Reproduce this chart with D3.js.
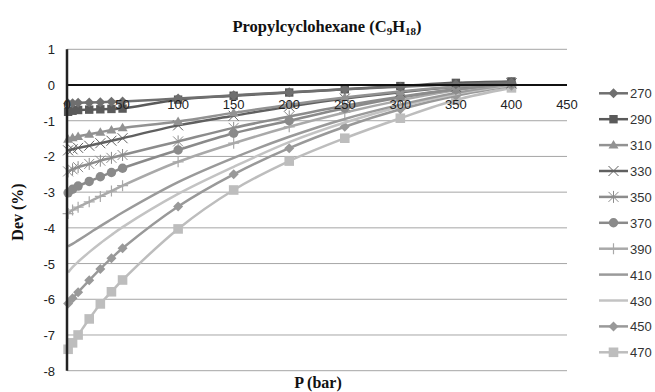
<!DOCTYPE html>
<html><head><meta charset="utf-8">
<script src="https://cdn.jsdelivr.net/npm/d3@7"></script>
<style>body{margin:0;background:#fff}svg{display:block}</style>
</head><body>
<svg id="c" width="655" height="392"></svg>
<script>
const pressures = [1,5,10,20,30,40,50,100,150,200,250,300,350,400];
const seriesNames = ["270","290","310","330","350","370","390","410","430","450","470"];
const s270 = [-0.52,-0.51,-0.5,-0.49,-0.48,-0.47,-0.46,-0.38,-0.29,-0.2,-0.12,-0.05,0.02,0.07];
const s290 = [-0.75,-0.72,-0.7,-0.69,-0.68,-0.67,-0.66,-0.41,-0.3,-0.21,-0.12,-0.03,0.06,0.1];
const s310 = [-1.52,-1.48,-1.44,-1.38,-1.32,-1.26,-1.2,-1.02,-0.78,-0.55,-0.35,-0.18,-0.05,0.05];
const s330 = [-1.83,-1.8,-1.76,-1.7,-1.63,-1.56,-1.49,-1.13,-0.86,-0.6,-0.38,-0.2,-0.05,0.05];
const s350 = [-2.42,-2.36,-2.3,-2.21,-2.12,-2.04,-1.96,-1.58,-1.2,-0.88,-0.58,-0.33,-0.12,0.04];
const s370 = [-3.02,-2.92,-2.83,-2.7,-2.57,-2.45,-2.33,-1.82,-1.35,-1.0,-0.65,-0.35,-0.12,0.04];
const s390 = [-3.6,-3.5,-3.42,-3.27,-3.12,-2.97,-2.82,-2.15,-1.63,-1.17,-0.77,-0.43,-0.15,0.03];
const s410 = [-4.52,-4.45,-4.35,-4.15,-3.95,-3.76,-3.57,-2.72,-2.04,-1.45,-0.95,-0.55,-0.22,0.02];
const s430 = [-5.25,-5.1,-4.95,-4.68,-4.43,-4.2,-3.98,-3.05,-2.29,-1.6,-1.05,-0.6,-0.25,0.0];
const s450 = [-6.12,-5.97,-5.8,-5.47,-5.15,-4.85,-4.57,-3.4,-2.5,-1.77,-1.17,-0.68,-0.3,-0.02];
const s470 = [-7.4,-7.22,-7.0,-6.55,-6.13,-5.79,-5.46,-4.03,-2.94,-2.13,-1.49,-0.93,-0.42,-0.08];
const seriesValues = [s270,s290,s310,s330,s350,s370,s390,s410,s430,s450,s470];
const xTicks = [0,50,100,150,200,250,300,350,400,450];
const yTicks = [1,0,-1,-2,-3,-4,-5,-6,-7,-8];
const title = "Propylcyclohexane";
const xTitle = "P (bar)";
const yTitle = "Dev (%)";

const styles = {
  "270":{c:"#6f6f6f",m:"diamond"},
  "290":{c:"#5a5a5a",m:"square"},
  "310":{c:"#929292",m:"triangle"},
  "330":{c:"#606060",m:"x"},
  "350":{c:"#8c8c8c",m:"star"},
  "370":{c:"#8a8a8a",m:"circle"},
  "390":{c:"#a9a9a9",m:"plus"},
  "410":{c:"#9a9a9a",m:"none"},
  "430":{c:"#c3c3c3",m:"none"},
  "450":{c:"#999999",m:"diamond"},
  "470":{c:"#bdbdbd",m:"square"}
};

const svg = d3.select("#c");
const x = d3.scaleLinear().domain([0,450]).range([67,567]);
const y = d3.scaleLinear().domain([-8,1]).range([370.7,49.3]);

svg.append("g").selectAll("line").data(yTicks.filter(d=>d!==0)).join("line")
  .attr("x1",x(0)).attr("x2",x(450)).attr("y1",d=>y(d)).attr("y2",d=>y(d))
  .attr("stroke","#a6a6a6").attr("stroke-width",1);

svg.append("g").selectAll("text").data(yTicks).join("text")
  .attr("x",55).attr("y",d=>y(d)+5).attr("text-anchor","end")
  .attr("font-family","Liberation Sans, Arial, sans-serif").attr("font-size",13).attr("fill","#222")
  .text(d=>d);

const line = d3.line().x(d=>x(d[0])).y(d=>y(d[1])).curve(d3.curveCatmullRom.alpha(0.5));
function drawMarker(g, m, c, px, py, big){
  if(m==="none") return;
  let d, stroke=false, sw=1;
  if(m==="x"){ const r=5; d=`M${px-r},${py-r}L${px+r},${py+r}M${px-r},${py+r}L${px+r},${py-r}`; stroke=true; }
  else if(m==="star"){ const r=5; d=`M${px-r},${py-r}L${px+r},${py+r}M${px-r},${py+r}L${px+r},${py-r}M${px},${py-r-1}L${px},${py+r+1}`; stroke=true; }
  else if(m==="plus"){ const r=5.5; d=`M${px-r},${py}L${px+r},${py}M${px},${py-r}L${px},${py+r}`; stroke=true; sw=1.2; }
  else if(m==="diamond"){ const r=5; d=`M${px},${py-r}L${px+r},${py}L${px},${py+r}L${px-r},${py}Z`; }
  else if(m==="square"){ const h=big?4.8:4.2; d=`M${px-h},${py-h}H${px+h}V${py+h}H${px-h}Z`; }
  else if(m==="triangle"){ const r=5; d=`M${px},${py-r}L${px+r},${py+r*0.7}L${px-r},${py+r*0.7}Z`; }
  else if(m==="circle"){ const r=4.7; d=`M${px-r},${py}A${r},${r} 0 1,0 ${px+r},${py}A${r},${r} 0 1,0 ${px-r},${py}Z`; }
  const p = g.append("path").attr("d",d);
  if(stroke) p.attr("stroke",c).attr("stroke-width",sw).attr("fill","none");
  else p.attr("fill",c).attr("stroke","none");
}
const plotG = svg.append("g");
for(let i=seriesNames.length-1;i>=0;i--){
  const name = seriesNames[i], st = styles[name];
  const pts = pressures.map((p,j)=>[p, seriesValues[i][j]]);
  const g = plotG.append("g");
  g.append("path").attr("d",line(pts)).attr("fill","none").attr("stroke",st.c).attr("stroke-width",2.5);
  pts.forEach(p=>drawMarker(g, st.m, st.c, x(p[0]), y(p[1]), name==="470"));
}

svg.append("line").attr("x1",x(0)).attr("x2",x(450)).attr("y1",y(0)).attr("y2",y(0))
  .attr("stroke","#111").attr("stroke-width",2);
svg.append("line").attr("x1",x(0)).attr("x2",x(0)).attr("y1",y(1)).attr("y2",y(-8))
  .attr("stroke","#222").attr("stroke-width",2.5);

svg.append("g").selectAll("text").data(xTicks).join("text")
  .attr("x",d=>x(d)).attr("y",y(0)+24).attr("text-anchor","middle")
  .attr("font-family","Liberation Sans, Arial, sans-serif").attr("font-size",13).attr("fill","#222")
  .text(d=>d);

const t = svg.append("text").attr("x",327).attr("y",32).attr("text-anchor","middle")
  .attr("font-family","Liberation Serif, Times New Roman, serif").attr("font-weight","bold").attr("font-size",16.5).attr("fill","#111");
t.append("tspan").text(title+" (C");
t.append("tspan").attr("font-size",11).attr("dy",3).text("9");
t.append("tspan").attr("dy",-3).text("H");
t.append("tspan").attr("font-size",11).attr("dy",3).text("18");
t.append("tspan").attr("dy",-3).text(")");

svg.append("text").attr("x",318).attr("y",388).attr("text-anchor","middle")
  .attr("font-family","Liberation Serif, Times New Roman, serif").attr("font-weight","bold").attr("font-size",16).attr("fill","#111")
  .text(xTitle);
svg.append("text").attr("transform","translate(23,212) rotate(-90)").attr("text-anchor","middle")
  .attr("font-family","Liberation Serif, Times New Roman, serif").attr("font-weight","bold").attr("font-size",16).attr("fill","#111")
  .text(yTitle);

const lg = svg.append("g");
seriesNames.forEach((name,i)=>{
  const st = styles[name];
  const ly = 93.3 + i*25.9;
  const g = lg.append("g");
  g.append("line").attr("x1",599).attr("x2",628).attr("y1",ly).attr("y2",ly).attr("stroke",st.c).attr("stroke-width",2.5);
  drawMarker(g, st.m, st.c, 613.5, ly, name==="470");
  g.append("text").attr("x",630).attr("y",ly+5).attr("font-family","Liberation Sans, Arial, sans-serif")
    .attr("font-size",13).attr("fill","#333").text(name);
});
</script>
</body></html>
